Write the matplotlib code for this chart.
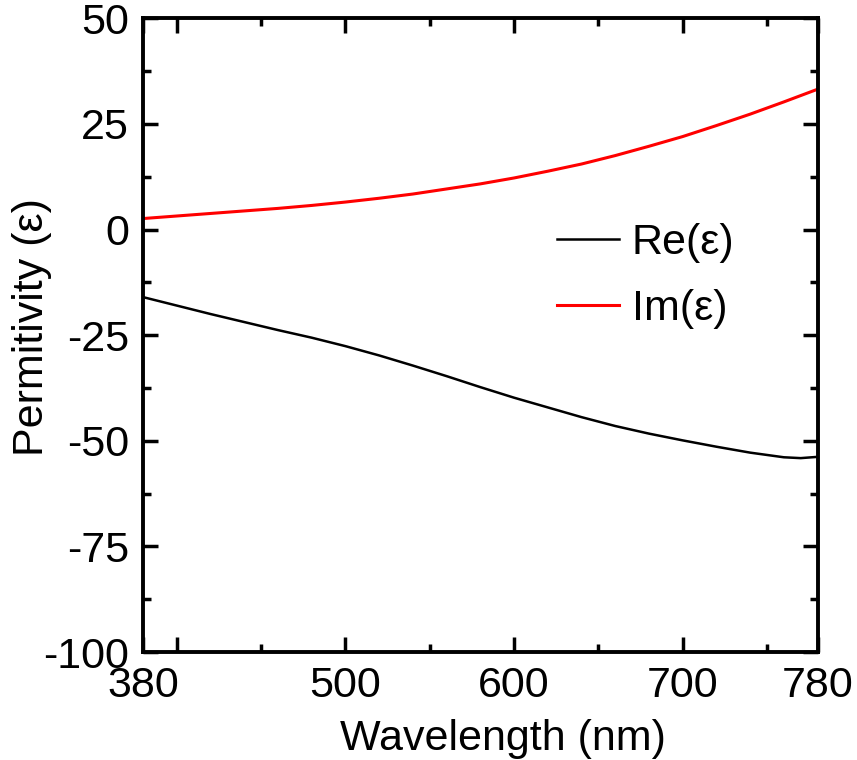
import numpy as np
import matplotlib
matplotlib.use('Agg')
import matplotlib.pyplot as plt
from matplotlib.ticker import FixedLocator, MultipleLocator

# values
wavelength = [380, 400, 420, 440, 460, 480, 500, 520, 540, 560, 580, 600,
              620, 640, 660, 680, 700, 720, 740, 760, 770, 780]
re_eps = [-16.0, -18.0, -20.0, -21.9, -23.8, -25.6, -27.6, -29.8, -32.2, -34.7,
          -37.3, -39.8, -42.1, -44.4, -46.5, -48.3, -49.9, -51.4, -52.8, -53.9,
          -54.1, -53.8]
im_eps = [2.6, 3.2, 3.8, 4.4, 5.0, 5.7, 6.5, 7.4, 8.4, 9.6, 10.8, 12.2,
          13.8, 15.5, 17.5, 19.7, 22.0, 24.6, 27.3, 30.2, 31.7, 33.2]

xtick_vals = [380, 400, 500, 600, 700, 780]
xtick_labels = ['380', '', '500', '600', '700', '780']

plt.rcParams['font.family'] = ['Liberation Sans', 'DejaVu Sans']
plt.rcParams['axes.unicode_minus'] = False

fig = plt.figure(figsize=(8.57, 7.6), dpi=100)
ax = fig.add_axes([0.167, 0.142, 0.787, 0.834])

ax.plot(wavelength, re_eps, color='black', lw=1.8, label='Re(ε)')
ax.plot(wavelength, im_eps, color='red', lw=2.2, label='Im(ε)')

ax.set_xlim(380, 780)
ax.set_ylim(-100, 50)
ax.xaxis.set_major_locator(FixedLocator(xtick_vals))
ax.set_xticklabels(xtick_labels)
ax.xaxis.set_minor_locator(FixedLocator([450, 550, 650, 750]))
ax.yaxis.set_major_locator(MultipleLocator(25))
ax.yaxis.set_minor_locator(MultipleLocator(12.5))

ax.tick_params(which='both', direction='in', top=True, right=True, width=2.5,
               labelsize=31, pad=10)
ax.tick_params(which='major', length=11)
ax.tick_params(which='minor', length=6)
for s in ax.spines.values():
    s.set_linewidth(2.8)

ax.set_xlabel('Wavelength (nm)', fontsize=31)
ax.xaxis.set_label_coords(0.533, -0.105)
ax.set_ylabel('Permitivity (ε)', fontsize=31)
ax.yaxis.set_label_coords(-0.135, 0.513)

ax.legend(loc='upper left', bbox_to_anchor=(0.613, 0.677), frameon=False,
          borderpad=0, borderaxespad=0, fontsize=31, handlelength=1.45,
          handletextpad=0.3, labelspacing=0.6)

fig.savefig('out.png', dpi=100)
